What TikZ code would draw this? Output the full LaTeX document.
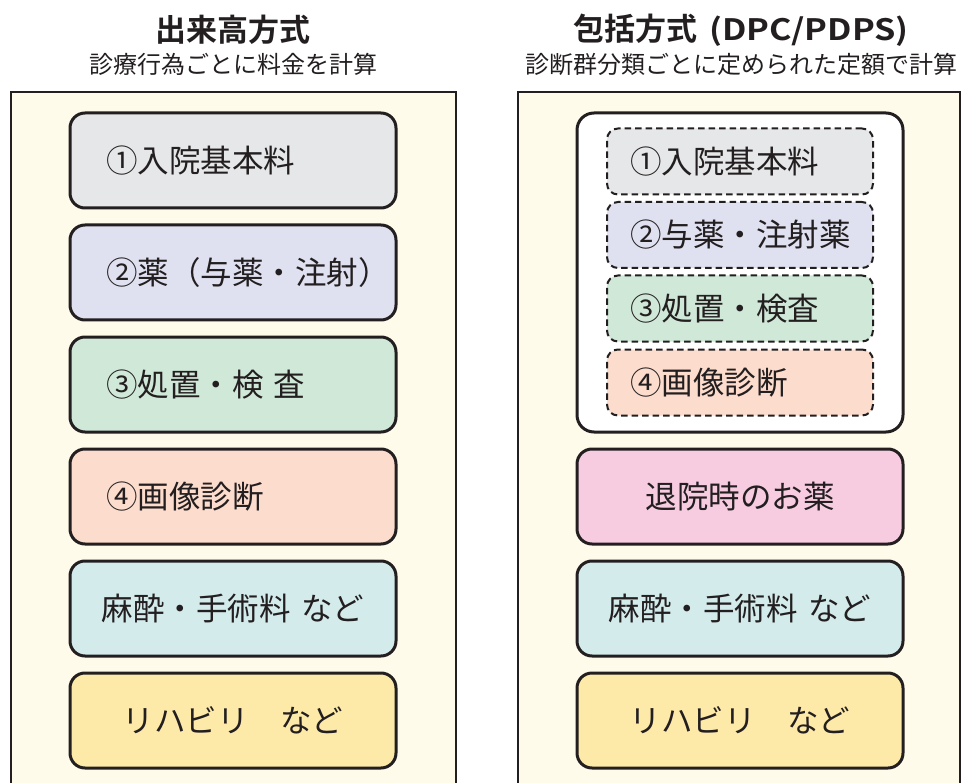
\documentclass[tikz,border=0pt]{standalone}
\usepackage{fontspec}
\setmainfont{Noto Sans CJK JP}[BoldFont={Noto Sans CJK JP Bold}]
\definecolor{ink}{HTML}{231F20}
\definecolor{panelbg}{HTML}{FFFBEA}
\definecolor{cgray}{HTML}{E6E7E8}
\definecolor{clav}{HTML}{DFE0F0}
\definecolor{cgreen}{HTML}{D0E8D8}
\definecolor{cpeach}{HTML}{FCDCCC}
\definecolor{ccyan}{HTML}{D4EBEC}
\definecolor{cyellow}{HTML}{FEEAA8}
\definecolor{cpink}{HTML}{F8CCE0}
\tikzset{
  boxtxt/.style={text=ink, font=\fontsize{31.5}{33}\selectfont},
  solidbox/.style={boxtxt, draw=ink, line width=3pt, rounded corners=15pt,
    minimum width=326pt, minimum height=95pt, inner ysep=0pt},
  leftbox/.style={solidbox, text width=254pt, inner xsep=36pt, align=left},
  centerbox/.style={solidbox, text width=300pt, inner xsep=13pt, align=center},
  dashbox/.style={boxtxt, draw=ink, line width=2pt, dash pattern=on 6.5pt off 4pt,
    rounded corners=11pt, minimum width=266pt, minimum height=66pt,
    text width=220pt, inner xsep=23pt, inner ysep=0pt, align=left},
  panel/.style={draw=ink, line width=2pt},
  titletxt/.style={text=ink, font=\bfseries\fontsize{31}{33}\selectfont, inner sep=0pt},
  subtxt/.style={text=ink, font=\fontsize{24}{26}\selectfont, inner sep=0pt},
}
\begin{document}
\begin{tikzpicture}[x=1pt,y=-1pt]
\useasboundingbox (0,0) rectangle (963,783);
\fill[white] (0,0) rectangle (963,783);
% panels
\fill[panelbg] (11,92) rectangle (456,790);
\draw[panel] (11,790) -- (11,92) -- (456,92) -- (456,790);
\fill[panelbg] (518,92) rectangle (960,790);
\draw[panel] (518,790) -- (518,92) -- (960,92) -- (960,790);
% titles
\node[titletxt] (t1) at (233,30) {出来高方式};
\node[titletxt] (t2) at (741,30) {包括方式\hspace{12pt}\scalebox{1.16}[1]{\fontsize{29.5}{33}\selectfont(DPC/PDPS)}};
\node[subtxt] (s1) at (233,64) {診療行為ごとに料金を計算};
\node[subtxt] (s2) at (741,64) {診断群分類ごとに定められた定額で計算};
% left column
\node[leftbox, fill=cgray]   (l1) at (233,160.5) {①入院基本料};
\node[leftbox, fill=clav]    (l2) at (233,272.5) {②薬（与薬・注射）};
\node[leftbox, fill=cgreen]  (l3) at (233,384.5) {③処置・検 査};
\node[leftbox, fill=cpeach]  (l4) at (233,496.5) {④画像診断};
\node[centerbox, fill=ccyan]   (l5) at (233,608.5) {麻酔・手術料 など};
\node[centerbox, fill=cyellow] (l6) at (233,720.5) {リハビリ　など};
% right column
\node[draw=ink, fill=white, line width=3pt, rounded corners=17pt,
  minimum width=326pt, minimum height=319pt] (group) at (740,272.5) {};
\node[dashbox, fill=cgray]  (r1) at (740,161.5) {①入院基本料};
\node[dashbox, fill=clav]   (r2) at (740,235) {②与薬・注射薬};
\node[dashbox, fill=cgreen] (r3) at (740,308.5) {③処置・検査};
\node[dashbox, fill=cpeach] (r4) at (740,382.5) {④画像診断};
\node[centerbox, fill=cpink]   (r5) at (740,496.5) {退院時のお薬};
\node[centerbox, fill=ccyan]   (r6) at (740,608.5) {麻酔・手術料 など};
\node[centerbox, fill=cyellow] (r7) at (740,720.5) {リハビリ　など};
\end{tikzpicture}
\end{document}
